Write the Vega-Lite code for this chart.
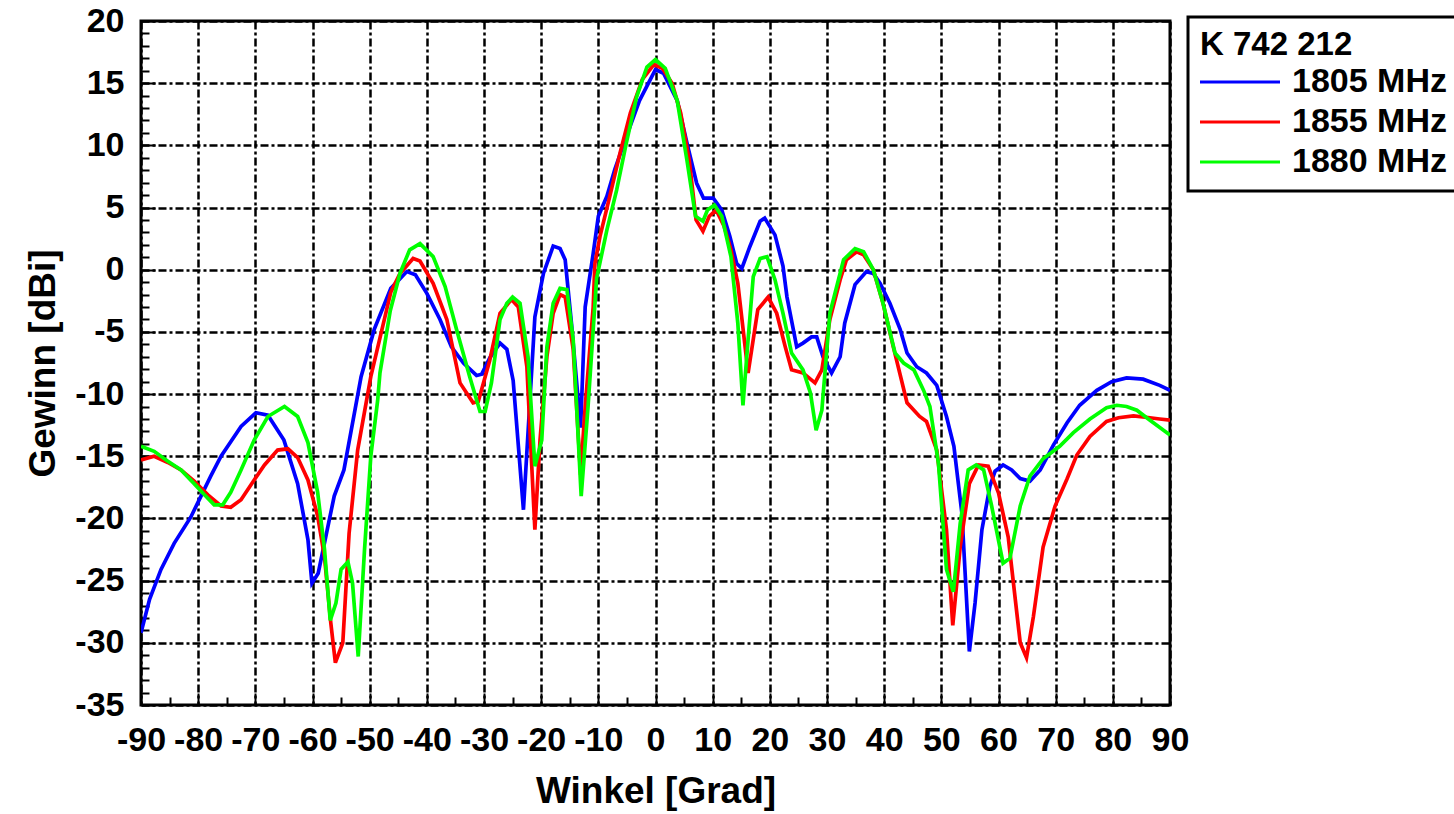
{
"$schema":"https://vega.github.io/schema/vega-lite/v6.json",
"width":1029,"height":684,
"autosize":"none",
"padding":{"left":141,"top":21,"right":284,"bottom":109},
"background":"white",
"config":{"view":{"stroke":"black","strokeWidth":3},"font":"Liberation Sans"},
"datasets":{
"b":[
{"a":-90,"g":-29.2},{"a":-88.5,"g":-26.5},{"a":-86.5,"g":-24.1},{"a":-84.2,"g":-22},{"a":-81.3,"g":-19.9},{"a":-77.8,"g":-16.6},{"a":-76,"g":-15},{"a":-72.5,"g":-12.6},{"a":-69.9,"g":-11.5},{"a":-67.8,"g":-11.7},{"a":-65,"g":-13.7},{"a":-62.6,"g":-17.2},{"a":-60.8,"g":-21.7},{"a":-60.1,"g":-25.2},{"a":-59,"g":-24.4},{"a":-56.2,"g":-18.2},{"a":-54.5,"g":-16.1},{"a":-51.5,"g":-8.6},{"a":-49.2,"g":-4.8},{"a":-46.3,"g":-1.5},{"a":-43.5,"g":-0.15},{"a":-42,"g":-0.4},{"a":-40,"g":-1.9},{"a":-37.7,"g":-4},{"a":-35.7,"g":-6.2},{"a":-33.6,"g":-7.5},{"a":-31.3,"g":-8.5},{"a":-30.4,"g":-8.4},{"a":-29,"g":-7.1},{"a":-27.2,"g":-5.9},{"a":-26,"g":-6.4},{"a":-24.9,"g":-8.9},{"a":-23.1,"g":-19.3},{"a":-21.1,"g":-3.8},{"a":-19.6,"g":-0.3},{"a":-17.9,"g":1.9},{"a":-16.7,"g":1.7},{"a":-15.8,"g":0.8},{"a":-14.7,"g":-4.3},{"a":-13.1,"g":-12.7},{"a":-12.3,"g":-3},{"a":-10.9,"g":1.3},{"a":-10,"g":4.3},{"a":-8.5,"g":5.9},{"a":-7.1,"g":8.1},{"a":-5.1,"g":10.7},{"a":-2.8,"g":13.6},{"a":0,"g":16.1},{"a":1.4,"g":15.8},{"a":3.8,"g":13.6},{"a":5.5,"g":10.2},{"a":7.2,"g":6.95},{"a":8.4,"g":5.75},{"a":10.1,"g":5.75},{"a":11.6,"g":4.8},{"a":13,"g":2.7},{"a":14.2,"g":0.5},{"a":15.1,"g":0.1},{"a":16.5,"g":1.85},{"a":18.3,"g":3.9},{"a":19.1,"g":4.15},{"a":20.9,"g":2.8},{"a":22.3,"g":0.3},{"a":23,"g":-2.2},{"a":24.7,"g":-6.2},{"a":25.8,"g":-5.9},{"a":27.3,"g":-5.4},{"a":28.2,"g":-5.4},{"a":29.3,"g":-7},{"a":30.8,"g":-8.3},{"a":32.3,"g":-7},{"a":33.1,"g":-4.3},{"a":34.9,"g":-1.2},{"a":36.9,"g":-0.15},{"a":38.1,"g":-0.3},{"a":39.3,"g":-1.1},{"a":41,"g":-2.7},{"a":42.8,"g":-4.8},{"a":44,"g":-6.7},{"a":45.7,"g":-7.8},{"a":47.4,"g":-8.3},{"a":49.2,"g":-9.3},{"a":50.9,"g":-11.8},{"a":52.2,"g":-14.2},{"a":53.6,"g":-19.6},{"a":54.9,"g":-30.7},{"a":55.9,"g":-26.8},{"a":57.1,"g":-20.9},{"a":58.5,"g":-17.4},{"a":59.4,"g":-16.2},{"a":60.8,"g":-15.7},{"a":62.3,"g":-16.1},{"a":63.8,"g":-16.8},{"a":65.5,"g":-17},{"a":67.3,"g":-16.1},{"a":69.6,"g":-14.1},{"a":72,"g":-12.3},{"a":74.2,"g":-10.9},{"a":77.2,"g":-9.7},{"a":79.8,"g":-9},{"a":82.4,"g":-8.7},{"a":85.3,"g":-8.8},{"a":88.2,"g":-9.3},{"a":90,"g":-9.7}
],
"r":[
{"a":-90,"g":-15.3},{"a":-87.7,"g":-15},{"a":-85.3,"g":-15.5},{"a":-83,"g":-16.1},{"a":-80.7,"g":-17},{"a":-78.3,"g":-18.1},{"a":-76,"g":-19},{"a":-74.3,"g":-19.1},{"a":-72.5,"g":-18.5},{"a":-70.2,"g":-16.9},{"a":-68.4,"g":-15.7},{"a":-66.1,"g":-14.5},{"a":-64.3,"g":-14.4},{"a":-62.6,"g":-15.1},{"a":-60.8,"g":-16.9},{"a":-59.1,"g":-19.8},{"a":-57.9,"g":-23.1},{"a":-56.8,"g":-28.4},{"a":-56,"g":-31.6},{"a":-54.7,"g":-30},{"a":-53.6,"g":-21.2},{"a":-52.1,"g":-14.5},{"a":-49.8,"g":-8.6},{"a":-48,"g":-5.1},{"a":-46.3,"g":-1.8},{"a":-44.7,"g":-0.3},{"a":-42.4,"g":0.9},{"a":-41.2,"g":0.7},{"a":-38.9,"g":-1.1},{"a":-36.5,"g":-4},{"a":-34.2,"g":-9.1},{"a":-31.9,"g":-10.7},{"a":-31,"g":-10.6},{"a":-29,"g":-7.3},{"a":-27.2,"g":-3.5},{"a":-25.2,"g":-2.4},{"a":-24,"g":-3},{"a":-22.5,"g":-7.8},{"a":-21.1,"g":-20.9},{"a":-20.2,"g":-13.7},{"a":-19,"g":-7},{"a":-17.9,"g":-3.5},{"a":-16.7,"g":-2},{"a":-15.8,"g":-2.2},{"a":-14.4,"g":-6.4},{"a":-13.1,"g":-16.5},{"a":-12.3,"g":-11},{"a":-10.9,"g":-3},{"a":-10.6,"g":0.5},{"a":-9.7,"g":2.7},{"a":-8,"g":5.9},{"a":-6.2,"g":9.4},{"a":-4.4,"g":12.6},{"a":-2.3,"g":15.3},{"a":-0.3,"g":16.5},{"a":1.2,"g":16.2},{"a":2.9,"g":15},{"a":4.4,"g":12.6},{"a":5.9,"g":8.8},{"a":7.1,"g":4},{"a":8.3,"g":3.1},{"a":9.4,"g":4.3},{"a":10.6,"g":4.8},{"a":12,"g":3.5},{"a":13.2,"g":1.6},{"a":14.4,"g":-1.1},{"a":16.2,"g":-8.3},{"a":17.9,"g":-3.2},{"a":19.7,"g":-2.2},{"a":21.2,"g":-3.5},{"a":22.7,"g":-6.2},{"a":23.8,"g":-8.05},{"a":25.8,"g":-8.3},{"a":27.9,"g":-9.1},{"a":29.1,"g":-8.05},{"a":30.5,"g":-4},{"a":32.3,"g":-0.8},{"a":33.4,"g":0.8},{"a":35.2,"g":1.45},{"a":36.4,"g":1.2},{"a":38.1,"g":0},{"a":39.8,"g":-2.7},{"a":41.6,"g":-6.2},{"a":44,"g":-10.7},{"a":46.2,"g":-11.8},{"a":47.4,"g":-12.2},{"a":49.2,"g":-14.5},{"a":50.9,"g":-20.9},{"a":52,"g":-28.6},{"a":53.3,"g":-22.3},{"a":54.9,"g":-17.2},{"a":56.5,"g":-15.7},{"a":58.2,"g":-15.8},{"a":60,"g":-17.95},{"a":61.7,"g":-21.5},{"a":63.8,"g":-30},{"a":64.9,"g":-31.2},{"a":66.1,"g":-27.9},{"a":67.8,"g":-22.3},{"a":69.9,"g":-19},{"a":72,"g":-16.8},{"a":73.7,"g":-14.9},{"a":76,"g":-13.4},{"a":78.9,"g":-12.2},{"a":81,"g":-11.9},{"a":83.6,"g":-11.75},{"a":86.5,"g":-11.9},{"a":88.2,"g":-12},{"a":90,"g":-12.1}
],
"gr":[
{"a":-90,"g":-14.2},{"a":-87.7,"g":-14.6},{"a":-85.3,"g":-15.4},{"a":-83,"g":-16.1},{"a":-80.7,"g":-17.2},{"a":-78.9,"g":-18.1},{"a":-77.2,"g":-18.9},{"a":-75.7,"g":-18.9},{"a":-74.3,"g":-17.9},{"a":-72.5,"g":-16.1},{"a":-70.2,"g":-13.7},{"a":-67.8,"g":-11.8},{"a":-64.9,"g":-11},{"a":-62.6,"g":-11.8},{"a":-60.8,"g":-13.9},{"a":-59.1,"g":-17.9},{"a":-57.9,"g":-22.5},{"a":-56.9,"g":-28.2},{"a":-55.9,"g":-26.8},{"a":-55,"g":-24.1},{"a":-53.8,"g":-23.5},{"a":-53,"g":-25.2},{"a":-52,"g":-31.1},{"a":-50.9,"g":-22.5},{"a":-49.8,"g":-15},{"a":-48.6,"g":-10.5},{"a":-48.2,"g":-8.3},{"a":-46.4,"g":-3.3},{"a":-44.7,"g":-0.3},{"a":-43,"g":1.6},{"a":-41.2,"g":2.1},{"a":-38.9,"g":1.05},{"a":-36.8,"g":-1.35},{"a":-34.8,"g":-4.8},{"a":-32.5,"g":-8.6},{"a":-30.7,"g":-11.4},{"a":-29.8,"g":-11.4},{"a":-28.7,"g":-9.1},{"a":-27.2,"g":-4},{"a":-26,"g":-2.7},{"a":-25,"g":-2.2},{"a":-23.7,"g":-2.7},{"a":-22.3,"g":-7},{"a":-21.1,"g":-15.8},{"a":-19.9,"g":-13.7},{"a":-19,"g":-6.2},{"a":-17.9,"g":-2.7},{"a":-16.7,"g":-1.5},{"a":-15.5,"g":-1.6},{"a":-14.4,"g":-5.6},{"a":-13,"g":-18.2},{"a":-11.8,"g":-11},{"a":-10.3,"g":-0.7},{"a":-8.5,"g":3.2},{"a":-6.8,"g":6.4},{"a":-5.1,"g":10.2},{"a":-3.3,"g":13.9},{"a":-1.5,"g":16.3},{"a":0,"g":16.9},{"a":1.7,"g":16.2},{"a":3.8,"g":13.6},{"a":5.5,"g":8.8},{"a":7,"g":4.3},{"a":8.3,"g":3.9},{"a":9.1,"g":4.8},{"a":10.3,"g":5.2},{"a":11.6,"g":4.3},{"a":13.2,"g":1.05},{"a":14.4,"g":-4.3},{"a":15.3,"g":-10.9},{"a":16.2,"g":-5.6},{"a":17.1,"g":-0.55},{"a":18.3,"g":0.9},{"a":19.5,"g":1.05},{"a":20.9,"g":-0.8},{"a":22.3,"g":-3.5},{"a":23.8,"g":-6.7},{"a":25.8,"g":-8.05},{"a":27.1,"g":-9.9},{"a":28.1,"g":-12.9},{"a":29.1,"g":-11.3},{"a":30.5,"g":-3.5},{"a":32.9,"g":0.8},{"a":34.9,"g":1.7},{"a":36.4,"g":1.45},{"a":38.1,"g":0},{"a":39.8,"g":-2.7},{"a":41.9,"g":-6.7},{"a":43.4,"g":-7.5},{"a":45.2,"g":-8.05},{"a":46.9,"g":-9.7},{"a":48,"g":-11},{"a":49.5,"g":-15.6},{"a":50.9,"g":-24.1},{"a":52.1,"g":-25.9},{"a":53.3,"g":-20.4},{"a":54.7,"g":-16.1},{"a":56.1,"g":-15.7},{"a":57.4,"g":-16.1},{"a":58.8,"g":-19},{"a":60.8,"g":-23.6},{"a":62,"g":-23.2},{"a":63.8,"g":-19},{"a":65.5,"g":-16.6},{"a":67.8,"g":-15.2},{"a":70.7,"g":-14.2},{"a":73.1,"g":-13.1},{"a":76,"g":-12},{"a":78.9,"g":-11.1},{"a":80.7,"g":-10.9},{"a":82.4,"g":-11},{"a":84.2,"g":-11.3},{"a":86.5,"g":-12.1},{"a":90,"g":-13.3}
]
},
"layer":[
{
"layer":[
{
"data":{"name":"b"},
"mark":{"type":"line","strokeWidth":3.7,"clip":true},
"encoding":{
"x":{"field":"a","type":"quantitative","scale":{"domain":[-90,90],"nice":false},
"axis":{"values":[-90,-80,-70,-60,-50,-40,-30,-20,-10,0,10,20,30,40,50,60,70,80,90],"labelExpr":"'' + datum.value","grid":true,"gridColor":"black","gridDash":[8,3,3,3],"gridWidth":2.5,"gridOpacity":1,"domain":false,"ticks":true,"tickColor":"black","tickSize":-12,"tickWidth":2,"labelFont":"Liberation Sans","labelFontSize":34,"labelFontWeight":"bold","labelColor":"black","labelPadding":30,"labelFlush":false,"labelOverlap":false,"title":"Winkel [Grad]","titleFont":"Liberation Sans","titleFontSize":37,"titleFontWeight":"bold","titleColor":"black","titlePadding":16}},
"y":{"field":"g","type":"quantitative","scale":{"domain":[-35,20],"nice":false},
"axis":{"values":[-35,-30,-25,-20,-15,-10,-5,0,5,10,15,20],"labelExpr":"'' + datum.value","grid":true,"gridColor":"black","gridDash":[8,3,3,3],"gridWidth":2.5,"gridOpacity":1,"domain":false,"ticks":true,"tickColor":"black","tickSize":-14,"tickWidth":2,"labelFont":"Liberation Sans","labelFontSize":34,"labelFontWeight":"bold","labelColor":"black","labelPadding":31,"labelFlush":false,"labelOverlap":false,"title":"Gewinn [dBi]","titleFont":"Liberation Sans","titleFontSize":37,"titleFontWeight":"bold","titleColor":"black","titlePadding":12}},
"color":{"datum":"1805 MHz","type":"nominal","scale":{"domain":["1805 MHz","1855 MHz","1880 MHz"],"range":["#0000ff","#ff0000","#00ff00"]},
"legend":{"orient":"none","legendX":1047,"legendY":-4,"title":"K 742 212","titleFont":"Liberation Sans","titleFontSize":33,"titleFontWeight":"bold","titleColor":"black","titlePadding":3,"labelFont":"Liberation Sans","labelFontSize":34,"labelFontWeight":"bold","labelColor":"black","labelOffset":35,"symbolType":"M-4,0H4","symbolSize":400,"symbolOffset":23,"symbolStrokeWidth":3,"strokeColor":"black","fillColor":"white","padding":12,"rowPadding":6,"labelLimit":400,
"encode":{"legend":{"update":{"strokeWidth":{"value":3}}}}}}
}
},
{
"data":{"name":"r"},
"mark":{"type":"line","strokeWidth":3.7,"clip":true},
"encoding":{"x":{"field":"a","type":"quantitative"},"y":{"field":"g","type":"quantitative"},"color":{"datum":"1855 MHz","type":"nominal"}}
},
{
"data":{"name":"gr"},
"mark":{"type":"line","strokeWidth":3.7,"clip":true},
"encoding":{"x":{"field":"a","type":"quantitative"},"y":{"field":"g","type":"quantitative"},"color":{"datum":"1880 MHz","type":"nominal"}}
}
]
},
{
"data":{"name":"b"},
"mark":{"type":"line","opacity":0},
"encoding":{
"x":{"field":"a","type":"quantitative","scale":{"domain":[-90,90],"nice":false},
"axis":{"orient":"bottom","values":[-85,-75,-65,-55,-45,-35,-25,-15,-5,5,15,25,35,45,55,65,75,85],"labels":false,"grid":false,"domain":false,"ticks":true,"tickSize":-8,"tickWidth":2,"tickColor":"black","title":null}},
"y":{"field":"g","type":"quantitative","scale":{"domain":[-35,20],"nice":false},
"axis":{"orient":"left","values":[-34,-33,-32,-31,-29,-28,-27,-26,-24,-23,-22,-21,-19,-18,-17,-16,-14,-13,-12,-11,-9,-8,-7,-6,-4,-3,-2,-1,1,2,3,4,6,7,8,9,11,12,13,14,16,17,18,19],"labels":false,"grid":false,"domain":false,"ticks":true,"tickSize":-8,"tickWidth":2,"tickColor":"black","title":null}}
}
}
],
"resolve":{"scale":{"x":"independent","y":"independent"},"axis":{"x":"independent","y":"independent"}}
}
